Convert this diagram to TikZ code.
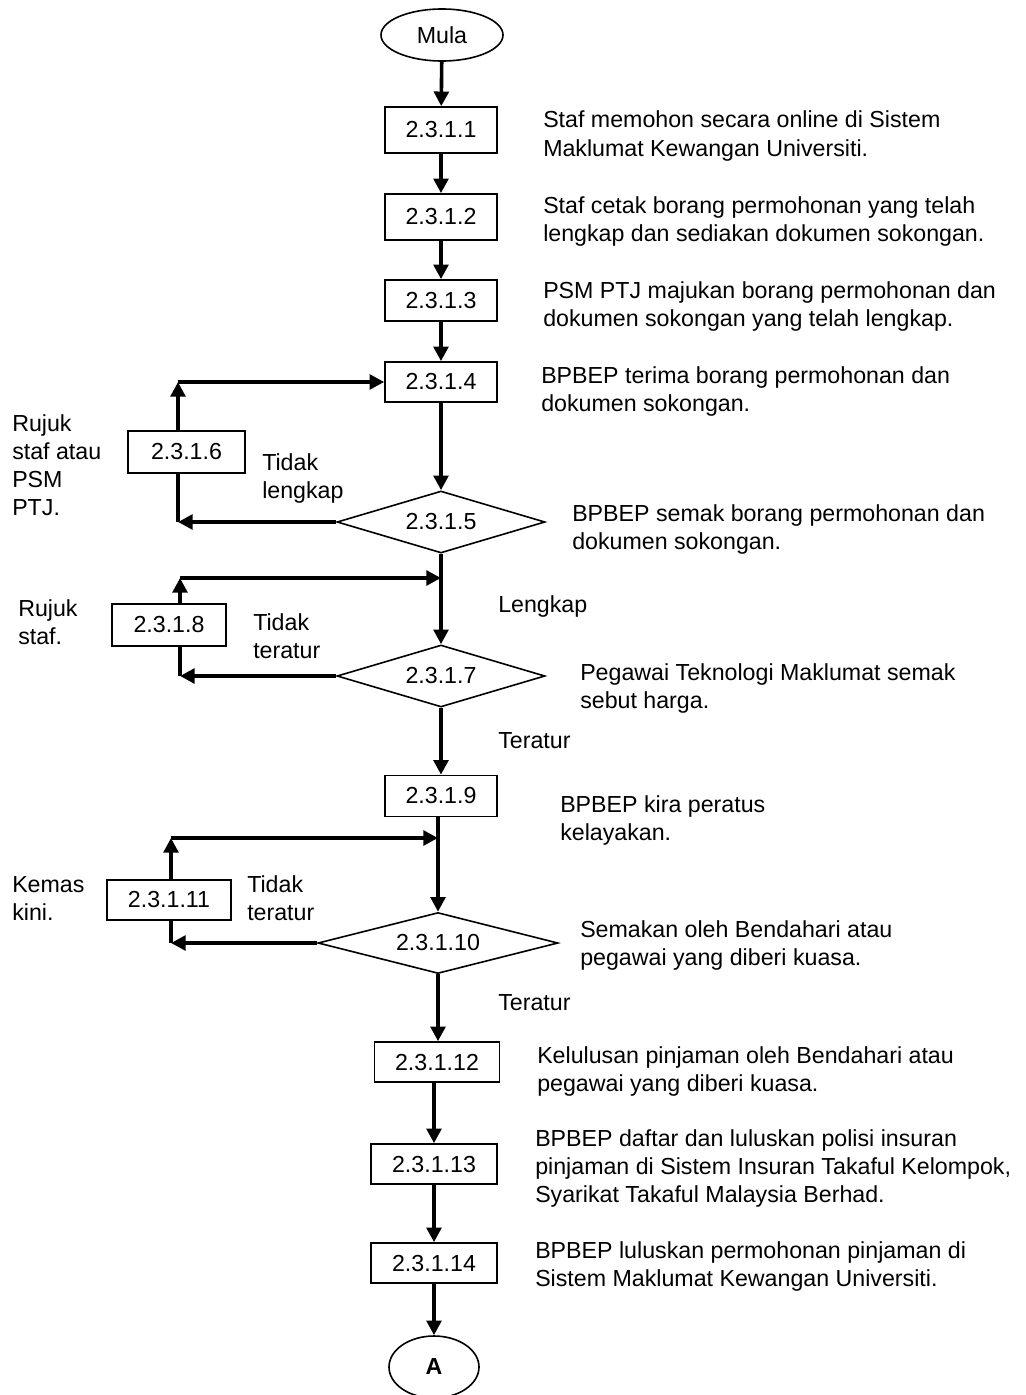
\documentclass[tikz,border=0pt]{standalone}
\usepackage{fontspec}
\setmainfont{Liberation Sans}
\usetikzlibrary{arrows.meta,shapes.geometric}
\begin{document}
\begin{tikzpicture}[x=0.75pt,y=-0.75pt,
  every node/.style={font=\fontsize{17.4pt}{21pt}\selectfont},
  box/.style={draw, line width=1.2pt, inner sep=0pt},
  dec/.style={draw, diamond, line width=1.2pt, inner sep=0pt},
  term/.style={draw, ellipse, line width=1.2pt, inner sep=0pt},
  flow/.style={line width=2.7pt, -{Triangle[length=11pt,width=11pt]}},
  seg/.style={line width=2.7pt},
  lbl/.style={anchor=base west, align=left, inner sep=0pt}]
\useasboundingbox (0,0) rectangle (1025,1395);

% main column
\node[term, minimum width=91.5pt, minimum height=39pt] (mula) at (442,35) {Mula};
\node[box, minimum width=84pt, minimum height=34.5pt] (b1) at (441,130) {2.3.1.1};
\node[box, minimum width=84pt, minimum height=34.5pt] (b2) at (441,217) {2.3.1.2};
\node[box, minimum width=84pt, minimum height=30.75pt] (b3) at (441,300.5) {2.3.1.3};
\node[box, minimum width=84pt, minimum height=30pt] (b4) at (441,382) {2.3.1.4};
\node[dec, aspect=3.35, minimum width=156pt, minimum height=46.5pt] (d5) at (441,522) {2.3.1.5};
\node[box, minimum width=87.75pt, minimum height=31.5pt] (b6) at (186.5,452) {2.3.1.6};
\node[dec, aspect=3.35, minimum width=156pt, minimum height=46.5pt] (d7) at (441,676) {2.3.1.7};
\node[box, minimum width=85.5pt, minimum height=31.5pt] (b8) at (169,625) {2.3.1.8};
\node[box, minimum width=84pt, minimum height=30.75pt] (b9) at (441,796) {2.3.1.9};
\node[dec, aspect=3.9, minimum width=180pt, minimum height=45.75pt] (d10) at (438,943) {2.3.1.10};
\node[box, minimum width=93pt, minimum height=30pt] (b11) at (169,900) {2.3.1.11};
\node[box, minimum width=93.75pt, minimum height=30pt] (b12) at (437,1062) {2.3.1.12};
\node[box, minimum width=94.5pt, minimum height=30pt] (b13) at (434,1164) {2.3.1.13};
\node[box, minimum width=94.5pt, minimum height=30pt] (b14) at (434,1263) {2.3.1.14};
\node[term, minimum width=67.5pt, minimum height=46.5pt, font=\fontsize{17.4pt}{21pt}\selectfont\bfseries] (A) at (434,1367) {A};

% corner coordinates of the loops
\coordinate (l5b) at (178,522);
\coordinate (l5t) at (178,382);
\coordinate (l7b) at (180,676);
\coordinate (l7t) at (180,578);
\coordinate (j7) at (441,578);
\coordinate (l10b) at (171,943);
\coordinate (l10t) at (171,838);
\coordinate (j10) at (438,838);

% connectors
\draw[flow] (mula) -- (b1);
\draw[flow] (b1) -- (b2);
\draw[flow] (b2) -- (b3);
\draw[flow] (b3) -- (b4);
\draw[flow] (b4) -- (d5);

\draw[flow] (d5.west) -- (l5b);
\draw[seg] (l5b) -- (l5b |- b6.south);
\draw[flow] (b6.north -| l5t) -- (l5t);
\draw[flow] (l5t) -- (b4.west);

\draw[flow] (d5.south) -- (d7.north);
\draw[flow] (d7.west) -- (l7b);
\draw[seg] (l7b) -- (l7b |- b8.south);
\draw[flow] (b8.north -| l7t) -- (l7t);
\draw[flow] (l7t) -- (j7);

\draw[flow] (d7.south) -- (b9.north);
\draw[flow] (b9.south -| d10.north) -- (d10.north);
\draw[flow] (d10.west) -- (l10b);
\draw[seg] (l10b) -- (l10b |- b11.south);
\draw[flow] (b11.north -| l10t) -- (l10t);
\draw[flow] (l10t) -- (j10);

\draw[flow] (d10.south) -- (d10.south |- b12.north);
\draw[flow] (b12.south -| b13.north) -- (b13.north);
\draw[flow] (b13) -- (b14);
\draw[flow] (b14) -- (A);

% descriptions (anchor = baseline of the last line)
\node[lbl] (t1) at (543,156) {Staf memohon secara online di Sistem\\Maklumat Kewangan Universiti.};
\node[lbl] (t2) at (543,241) {Staf cetak borang permohonan yang telah\\lengkap dan sediakan dokumen sokongan.};
\node[lbl] (t3) at (543,326) {PSM PTJ majukan borang permohonan dan\\dokumen sokongan yang telah lengkap.};
\node[lbl] (t4) at (541,411) {BPBEP terima borang permohonan dan\\dokumen sokongan.};
\node[lbl] (t5) at (572,549) {BPBEP semak borang permohonan dan\\dokumen sokongan.};
\node[lbl] (t7) at (580,708) {Pegawai Teknologi Maklumat semak\\sebut harga.};
\node[lbl] (t9) at (560,840) {BPBEP kira peratus\\kelayakan.};
\node[lbl] (t10) at (580,965) {Semakan oleh Bendahari atau\\pegawai yang diberi kuasa.};
\node[lbl] (t12) at (537,1091) {Kelulusan pinjaman oleh Bendahari atau\\pegawai yang diberi kuasa.};
\node[lbl] (t13) at (535,1202) {BPBEP daftar dan luluskan polisi insuran\\pinjaman di Sistem Insuran Takaful Kelompok,\\Syarikat Takaful Malaysia Berhad.};
\node[lbl] (t14) at (535,1286) {BPBEP luluskan permohonan pinjaman di\\Sistem Maklumat Kewangan Universiti.};

% side labels
\node[lbl] (r6) at (12,515) {Rujuk\\staf atau\\PSM\\PTJ.};
\node[lbl] (n5) at (262,498) {Tidak\\lengkap};
\node[lbl] (y5) at (498,612) {Lengkap};
\node[lbl] (r8) at (18,644) {Rujuk\\staf.};
\node[lbl] (n7) at (253,658) {Tidak\\teratur};
\node[lbl] (y7) at (498,748) {Teratur};
\node[lbl] (r11) at (12,920) {Kemas\\kini.};
\node[lbl] (n10) at (247,920) {Tidak\\teratur};
\node[lbl] (y10) at (498,1010) {Teratur};
\end{tikzpicture}
\end{document}
